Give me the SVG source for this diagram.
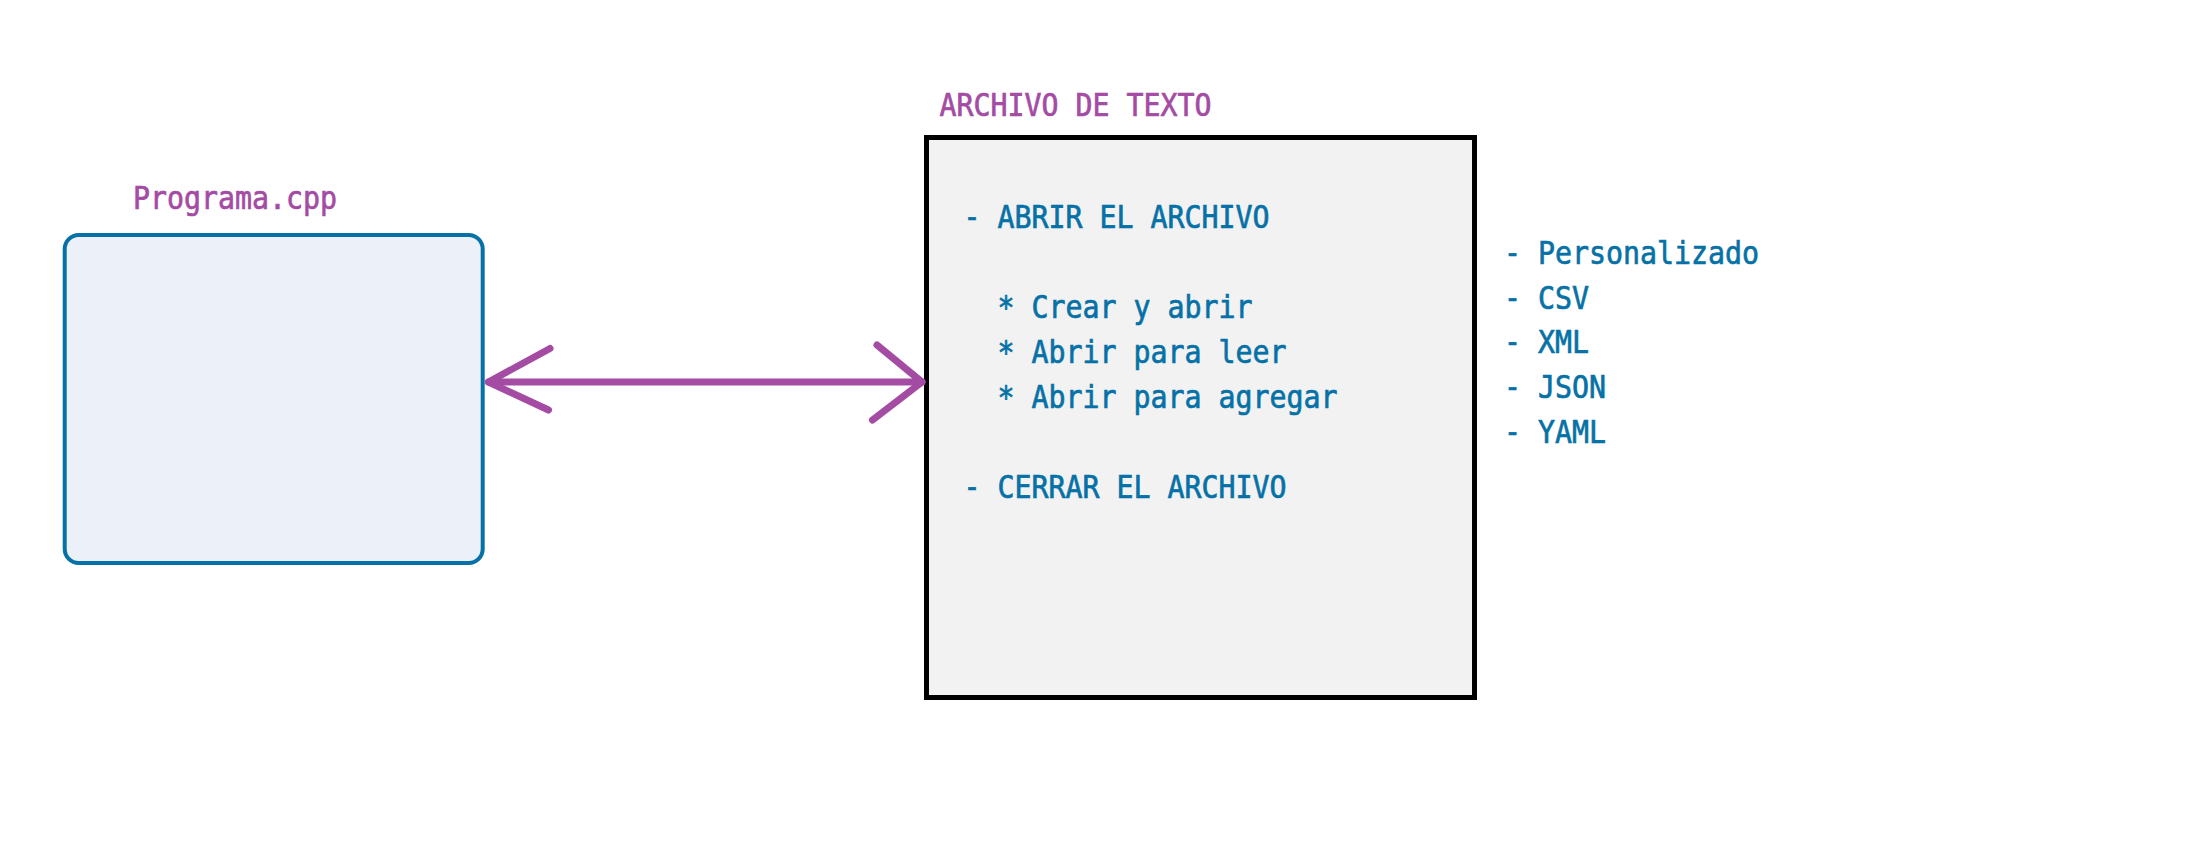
<svg xmlns="http://www.w3.org/2000/svg" width="2211" height="849" viewBox="0 0 2211 849">
<style>
  text { font-family: "DejaVu Sans Mono", "Liberation Mono", monospace; font-size: 32px; stroke-width: 0.7px; }
  .purple { fill: #A44BA4; stroke: #A44BA4; }
  .blue { fill: #0671A6; stroke: #0671A6; }
  .conn { fill: none; stroke: #A44BA4; stroke-width: 7; stroke-linecap: round; stroke-linejoin: round; }
</style>
<rect x="0" y="0" width="2211" height="849" fill="#FFFFFF"/>
<g id="programa">
  <rect x="64.7" y="235" width="418" height="328" rx="14" ry="14" fill="#ECF1F9" stroke="#0671A6" stroke-width="4"/>
  <text class="purple" x="133" y="209" textLength="204" lengthAdjust="spacingAndGlyphs">Programa.cpp</text>
</g>
<g id="archivo">
  <rect x="926.5" y="137.5" width="548" height="560" fill="#F2F2F2" stroke="#000000" stroke-width="5"/>
  <text class="purple" x="939.5" y="116" textLength="272" lengthAdjust="spacingAndGlyphs">ARCHIVO DE TEXTO</text>
  <text class="blue" x="963.5" y="228" textLength="306" lengthAdjust="spacingAndGlyphs">- ABRIR EL ARCHIVO</text>
  <text class="blue" x="997.5" y="317.5" textLength="255" lengthAdjust="spacingAndGlyphs">* Crear y abrir</text>
  <text class="blue" x="997.5" y="362.8" textLength="289" lengthAdjust="spacingAndGlyphs">* Abrir para leer</text>
  <text class="blue" x="997.5" y="408.3" textLength="340" lengthAdjust="spacingAndGlyphs">* Abrir para agregar</text>
  <text class="blue" x="963.5" y="497.5" textLength="323" lengthAdjust="spacingAndGlyphs">- CERRAR EL ARCHIVO</text>
</g>
<g id="formatos">
  <text class="blue" x="1504" y="264" textLength="255" lengthAdjust="spacingAndGlyphs">- Personalizado</text>
  <text class="blue" x="1504" y="308.5" textLength="85" lengthAdjust="spacingAndGlyphs">- CSV</text>
  <text class="blue" x="1504" y="353.3" textLength="85" lengthAdjust="spacingAndGlyphs">- XML</text>
  <text class="blue" x="1504" y="398.3" textLength="102" lengthAdjust="spacingAndGlyphs">- JSON</text>
  <text class="blue" x="1504" y="442.7" textLength="102" lengthAdjust="spacingAndGlyphs">- YAML</text>
</g>
<g id="connectors">
  <path class="conn" d="M488.5 382 L922 382"/>
  <path class="conn" d="M550 348.5 L488.5 382 L548.5 410"/>
  <path class="conn" d="M877 345 L922 382 L872.5 420"/>
</g>
</svg>
